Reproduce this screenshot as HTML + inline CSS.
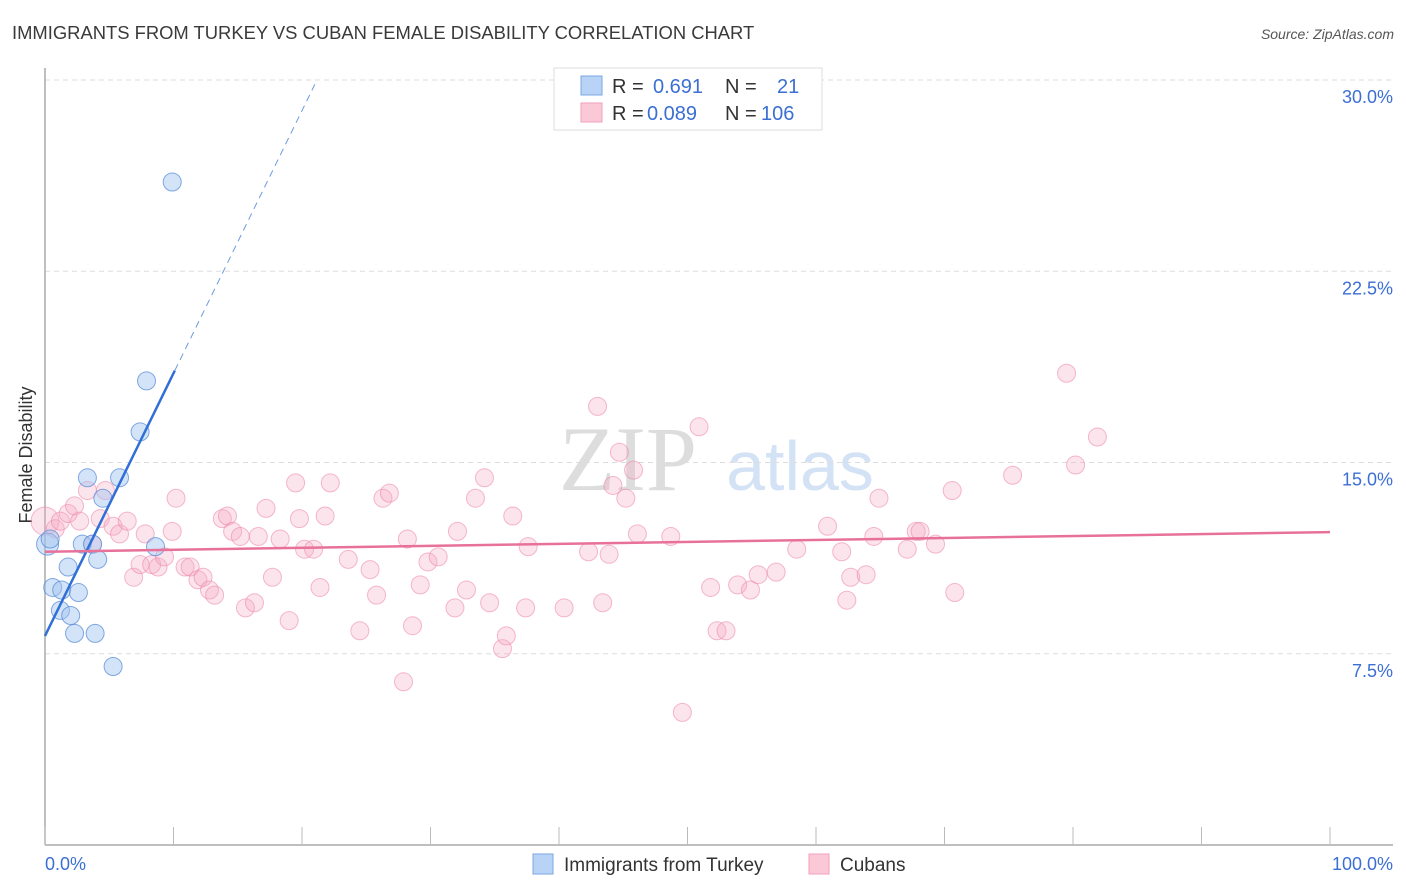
<!DOCTYPE html>
<html><head><meta charset="utf-8"><style>
body{margin:0;background:#fff;font-family:"Liberation Sans",sans-serif}
svg{display:block}
</style></head><body>
<svg width="1406" height="892" id="c">
<text x="12" y="39" font-size="18.4" fill="#3a3a3a">IMMIGRANTS FROM TURKEY VS CUBAN FEMALE DISABILITY CORRELATION CHART</text>
<text x="1394" y="39" font-size="14" fill="#555" font-style="italic" text-anchor="end">Source: ZipAtlas.com</text>
<text x="32" y="455" font-size="18" fill="#333" transform="rotate(-90 32 455)" text-anchor="middle">Female Disability</text>
<text x="628" y="490" font-size="92" fill="#ddd" font-family="Liberation Serif" text-anchor="middle">ZIP</text>
<text x="800" y="490" font-size="70" fill="#d3e2f4" text-anchor="middle">atlas</text>
<g id="grid"></g><g id="pts"></g><g id="lines"></g>
<g>
<rect x="554" y="68" width="268" height="62" fill="#fff" stroke="#ddd"/>
<rect x="581" y="76" width="21" height="19" fill="#b8d3f5" stroke="#7aa7e3"/>
<rect x="581" y="103" width="21" height="19" fill="#fbc8d8" stroke="#f0a0b8"/>
<text x="612" y="93" font-size="20" fill="#333">R =</text><text x="653" y="93" font-size="20" fill="#3b6fd4">0.691</text>
<text x="725" y="93" font-size="20" fill="#333">N =</text><text x="777" y="93" font-size="20" fill="#3b6fd4">21</text>
<text x="612" y="120" font-size="20" fill="#333">R =</text><text x="647" y="120" font-size="20" fill="#3b6fd4">0.089</text>
<text x="725" y="120" font-size="20" fill="#333">N =</text><text x="761" y="120" font-size="20" fill="#3b6fd4">106</text>
</g>
<g>
<rect x="533" y="854" width="20" height="20" fill="#b8d3f5" stroke="#7aa7e3"/>
<text x="564" y="871" font-size="19" fill="#333">Immigrants from Turkey</text>
<rect x="809" y="854" width="20" height="20" fill="#fbc8d8" stroke="#f0a0b8"/>
<text x="840" y="871" font-size="19" fill="#333">Cubans</text>
</g>
</svg>
<script>
const yTicks=[7.5,15,22.5,30];
const xTickLabels=["0.0%","100.0%"];
const blueX=[9.9,7.9,7.4,3.3,5.8,4.5,0.2,2.9,3.7,8.6,4.1,1.8,0.6,1.3,2.6,1.2,2.0,2.3,3.9,5.3,0.4];
const blueY=[26.0,18.2,16.2,14.4,14.4,13.6,11.8,11.8,11.8,11.7,11.2,10.9,10.1,10.0,9.9,9.2,9.0,8.3,8.3,7.0,12.0];
const pinkX=[0,0.8,1.2,1.8,2.3,2.7,3.3,3.7,4.3,4.7,5.3,5.8,6.4,6.9,7.4,7.8,8.3,8.8,9.3,9.9,10.2,10.9,11.3,11.9,12.3,12.8,13.2,13.8,14.2,14.6,15.2,15.6,16.3,16.6,17.2,17.7,18.3,19.0,19.5,19.8,20.2,20.9,21.4,21.8,22.2,23.6,24.5,25.3,25.8,26.3,26.8,27.9,28.2,28.6,29.2,29.8,30.6,31.9,32.1,32.8,33.5,34.2,34.6,35.6,35.9,36.4,37.4,37.6,40.4,42.3,43.0,43.4,43.9,44.2,44.7,45.2,45.8,46.1,48.7,50.9,51.8,52.3,53.0,53.9,54.9,55.5,56.9,58.5,60.9,62.0,62.4,62.7,63.9,64.5,64.9,67.1,67.8,68.1,69.3,70.6,70.8,75.3,79.5,80.2,81.9,49.6];
const pinkY=[12.7,12.4,12.7,13.0,13.3,12.7,13.9,11.8,12.8,13.9,12.5,12.2,12.7,10.5,11.0,12.2,11.0,10.9,11.3,12.3,13.6,10.9,10.9,10.4,10.5,10.0,9.8,12.8,12.9,12.3,12.1,9.3,9.5,12.1,13.2,10.5,12.0,8.8,14.2,12.8,11.6,11.6,10.1,12.9,14.2,11.2,8.4,10.8,9.8,13.6,13.8,6.4,12.0,8.6,10.2,11.1,11.3,9.3,12.3,10.0,13.6,14.4,9.5,7.7,8.2,12.9,9.3,11.7,9.3,11.5,17.2,9.5,11.4,14.1,15.4,13.6,14.7,12.2,12.1,16.4,10.1,8.4,8.4,10.2,10.0,10.6,10.7,11.6,12.5,11.5,9.6,10.5,10.6,12.1,13.6,11.6,12.3,12.3,11.8,13.9,9.9,14.5,18.5,14.9,16.0,5.2];
const blueFit=[8.2,1.03];
const pinkFit=[11.5,12.27];
const X=v=>45+v*12.85, Y=v=>845-v*25.5;
const NS="http://www.w3.org/2000/svg";
function mk(t,a,p){const e=document.createElementNS(NS,t);for(const k in a)e.setAttribute(k,a[k]);p.appendChild(e);return e;}
const g=document.getElementById('grid');
yTicks.forEach(t=>{
 const l=mk('line',{x1:45,x2:1393,y1:Y(t),y2:Y(t),stroke:'#ddd','stroke-dasharray':'5,4'},g);
 
 
 const tx=mk('text',{x:1393,y:Y(t)+23,'font-size':18,fill:'#3b6fd4','text-anchor':'end'},g);
 tx.textContent=t.toFixed(1)+'%';
 
 
});
const ax=mk('line',{x1:45,x2:1393,y1:845,y2:845,stroke:'#aaa','stroke-width':1.5},g);


const ay=mk('line',{x1:45,x2:45,y1:68,y2:845,stroke:'#aaa','stroke-width':1.5},g);


for(let i=0;i<=10;i++){const t=mk('line',{x1:X(i*10),x2:X(i*10),y1:827,y2:845,stroke:'#bbb'},g);
 
 }
xTickLabels.forEach((s,i)=>{const t=mk('text',{x:i?1393:45,y:870,'font-size':18,fill:'#3b6fd4','text-anchor':i?'end':'start'},g);t.textContent=s;
 
 });
const p=document.getElementById('pts');
pinkX.forEach((x,i)=>{const r=i===0?14:9;const c=mk('circle',{cx:X(x),cy:Y(pinkY[i]),r:r,fill:'rgba(247,170,195,0.32)',stroke:'rgba(236,130,165,0.55)','stroke-width':1},p);
 
 });
blueX.forEach((x,i)=>{const c=mk('circle',{cx:X(x),cy:Y(blueY[i]),r:i===6?11:9,fill:'rgba(160,195,240,0.45)',stroke:'rgba(80,135,215,0.7)','stroke-width':1},p);
 
 });
const L=document.getElementById('lines');
const bx1=10.1,bx2=21.0;
const b1=mk('line',{x1:X(0),y1:Y(blueFit[0]),x2:X(bx1),y2:Y(blueFit[0]+blueFit[1]*bx1),stroke:'#2f6fd6','stroke-width':2.5},L);


const b2=mk('line',{x1:X(bx1),y1:Y(blueFit[0]+blueFit[1]*bx1),x2:X(bx2),y2:Y(blueFit[0]+blueFit[1]*bx2),stroke:'#6a9be0','stroke-width':1,'stroke-dasharray':'7,5'},L);


const pl=mk('line',{x1:X(0),y1:Y(pinkFit[0]),x2:X(100),y2:Y(pinkFit[1]),stroke:'#e8719a','stroke-width':2.5},L);


</script>
</body></html>
